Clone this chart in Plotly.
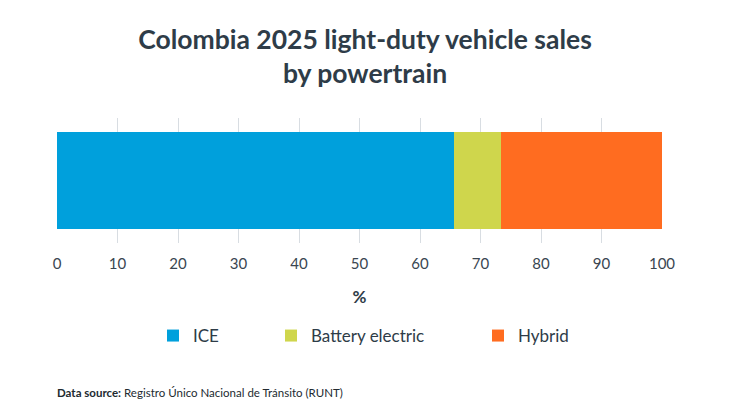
import plotly.graph_objects as go

categories = ["Colombia 2025"]
series_names = ["ICE", "Battery electric", "Hybrid"]
ice = [65.6]
battery_electric = [7.8]
hybrid = [26.6]
tick_vals = [0, 10, 20, 30, 40, 50, 60, 70, 80, 90, 100]
colors = ["#00a0dc", "#cfd64c", "#ff6c20"]

FONT = "Lato"
TXT = "#2e3c48"

W, H = 730, 411
OFF = 8  # page body offset

fig = go.Figure()
values = [ice, battery_electric, hybrid]
legends = ["legend", "legend2", "legend3"]
for name, vals, col, lg in zip(series_names, values, colors, legends):
    fig.add_trace(go.Bar(
        y=categories, x=vals, name=name, orientation="h",
        marker=dict(color=col, line=dict(width=0)),
        legend=lg, hoverinfo="x+name",
    ))

ml, mt = 57 - OFF, 118 - OFF
mr = W + OFF - 662
mb = H + OFF - 243
pw = W - ml - mr
ph = H - mt - mb

leg_common = dict(orientation="h", xref="paper", yref="container", yanchor="middle",
                  xanchor="left", font=dict(family=FONT, size=17, color=TXT),
                  bgcolor="rgba(0,0,0,0)", itemwidth=30)
leg_x_px = [145, 263, 470]
leg_y = 1 - (336 - OFF) / H

fig.update_layout(
    width=W, height=H,
    margin=dict(l=ml, r=mr, t=mt, b=mb),
    paper_bgcolor="white", plot_bgcolor="white",
    barmode="stack", bargap=0.224,
    title=dict(text="Colombia 2025 light-duty vehicle sales<br>by powertrain",
               x=(365 - OFF) / W, xref="container", xanchor="center",
               y=1 - 41 / H, yref="container", yanchor="middle",
               font=dict(family=FONT, size=26.5, color=TXT, weight="bold")),
    xaxis=dict(range=[0, 100], tickvals=tick_vals, showgrid=True, gridcolor="#d8dde2",
               gridwidth=1, zeroline=False, showline=False, ticks="",
               ticklabelstandoff=10,
               tickfont=dict(family=FONT, size=15, color="#3a4651"),
               title=dict(text="%", font=dict(family=FONT, size=17, color=TXT, weight="bold"),
                          standoff=20)),
    yaxis=dict(showticklabels=False, showgrid=False, zeroline=False, showline=False),
    showlegend=True,
    legend=dict(leg_common, x=(leg_x_px[0] - ml) / pw, y=leg_y),
    legend2=dict(leg_common, x=(leg_x_px[1] - ml) / pw, y=leg_y),
    legend3=dict(leg_common, x=(leg_x_px[2] - ml) / pw, y=leg_y),
    annotations=[dict(text="<b>Data source:</b> Registro Único Nacional de Tránsito (RUNT)",
                      x=-0.003, xref="paper", xanchor="left",
                      y=(243 - 392) / ph, yref="paper", yanchor="middle",
                      showarrow=False, font=dict(family=FONT, size=11.5, color="#222a30"))],
)

fig.write_html("out.html")
